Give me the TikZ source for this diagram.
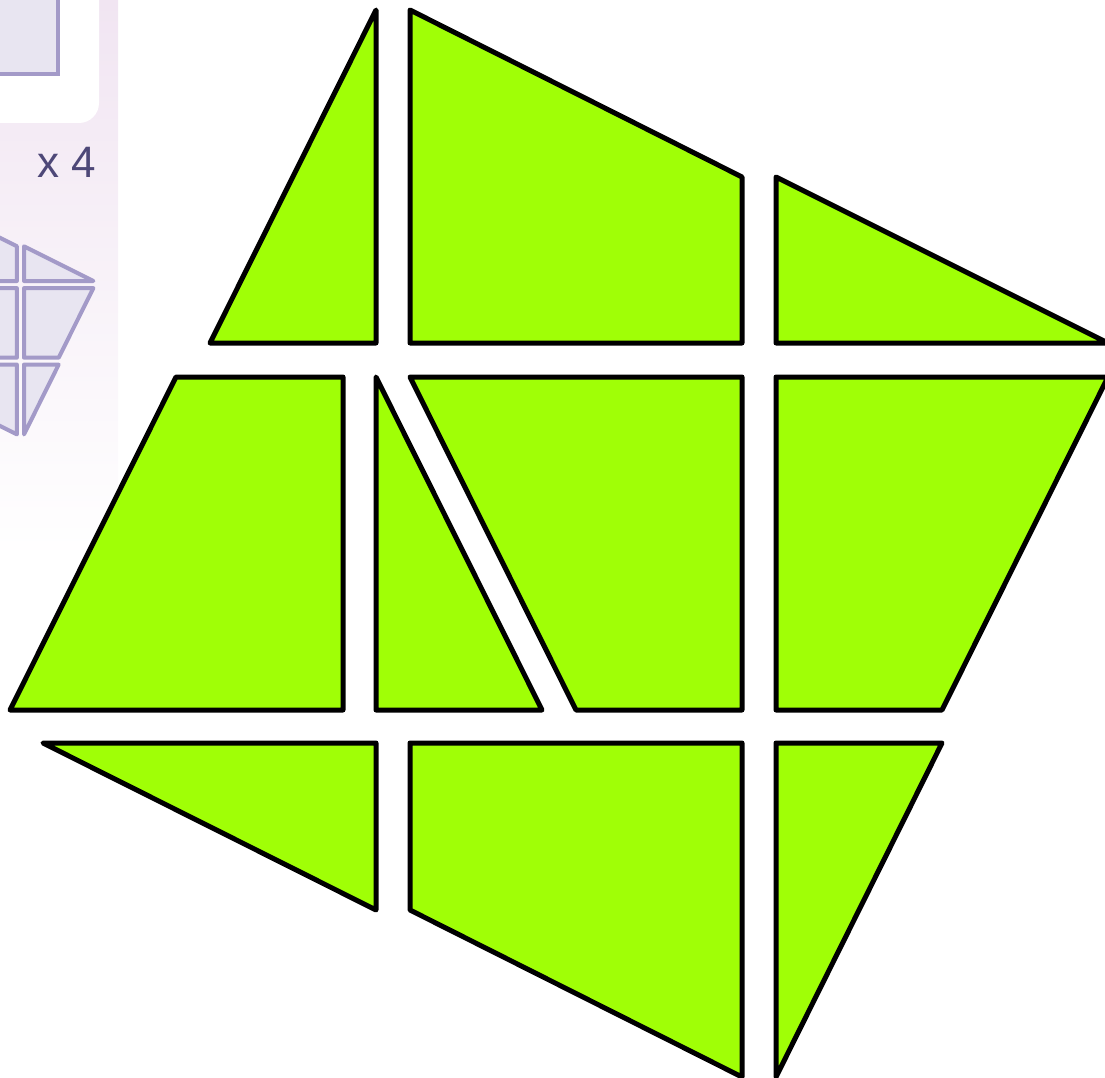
\documentclass[tikz,border=0pt]{standalone}
\usepackage{fontspec}
\newfontfamily\labelfont{Liberation Sans}
\definecolor{lime}{HTML}{A0FF06}
\definecolor{panelbg}{HTML}{F1E5F2}
\definecolor{iconfill}{HTML}{E8E5F1}
\definecolor{iconline}{HTML}{A39AC8}
\definecolor{textpurple}{HTML}{4E4878}
\tikzset{
  piece/.style={draw=black, fill=lime, line width=5pt, line join=round},
  iconpiece/.style={draw=iconline, fill=iconfill, line width=4pt, line join=round},
}
\newcommand\allpieces[1]{%
  \path[#1] (376,10)--(210,343)--(376,343)--cycle;
  \path[#1] (410,10)--(742,177)--(742,343)--(410,343)--cycle;
  \path[#1] (776,177)--(1108,343)--(776,343)--cycle;
  \path[#1] (176,377)--(343,377)--(343,710)--(10,710)--cycle;
  \path[#1] (376,377)--(542,710)--(376,710)--cycle;
  \path[#1] (410,377)--(742,377)--(742,710)--(576,710)--cycle;
  \path[#1] (776,377)--(1108,377)--(942,710)--(776,710)--cycle;
  \path[#1] (43,743)--(376,743)--(376,910)--cycle;
  \path[#1] (410,743)--(742,743)--(742,1077)--(410,910)--cycle;
  \path[#1] (776,743)--(942,743)--(776,1077)--cycle;
}
\begin{document}
\begin{tikzpicture}[x=1pt,y=-1pt]
\useasboundingbox (0,0) rectangle (1105,1078);
\clip (0,0) rectangle (1105,1078);
% left panel background
\shade[top color=panelbg, bottom color=white] (0,0) rectangle (118,560);
\fill[white, rounded corners=20pt] (-40,-40) rectangle (99,123);
\draw[fill=iconfill, draw=iconline, line width=4pt] (-20,-20) rectangle (58,74);
\node[anchor=base west, inner sep=0pt, text=textpurple, font=\labelfont\fontsize{44}{44}\selectfont] (count) at (37,178) {x 4};
\begin{scope}[shift={(24,281)}, scale=0.209, shift={(-776,-343)}]
  \allpieces{iconpiece}
\end{scope}
% main pieces
\allpieces{piece}
\end{tikzpicture}
\end{document}
